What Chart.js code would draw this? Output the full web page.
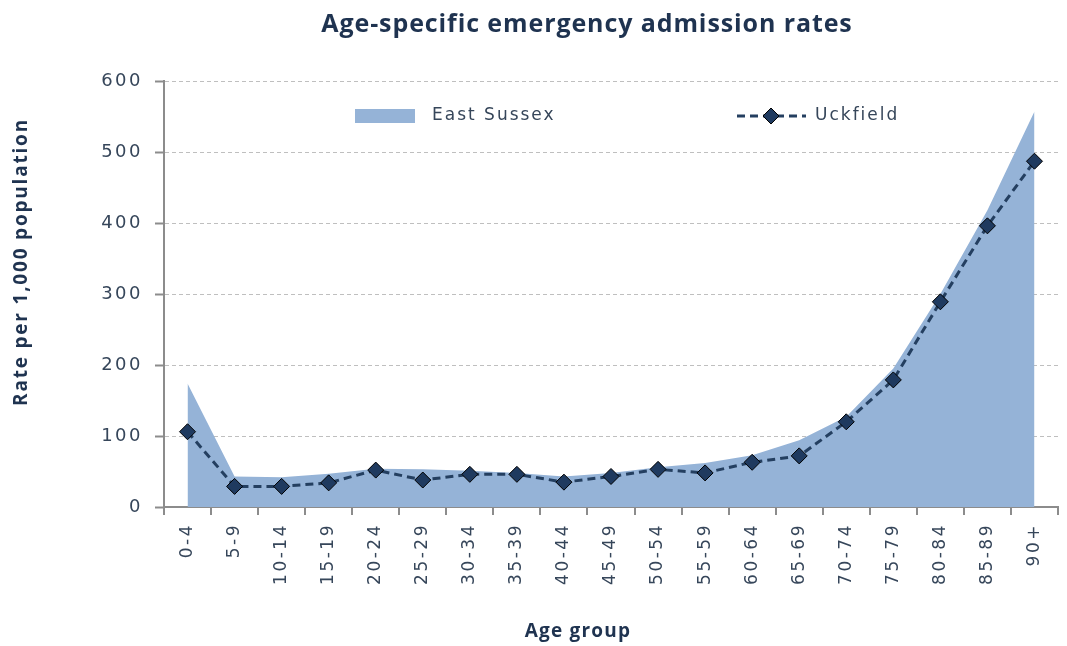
<!DOCTYPE html>
<html>
<head>
<meta charset="utf-8">
<script src="https://cdn.jsdelivr.net/npm/chart.js@4/dist/chart.umd.min.js"></script>
<style>
html,body{margin:0;padding:0;background:#fff;}
#wrap{width:1067px;height:646px;position:relative;}
</style>
</head>
<body>
<div id="wrap"><canvas id="c" width="1067" height="646"></canvas></div>
<script>
const categories = ["0-4","5-9","10-14","15-19","20-24","25-29","30-34","35-39","40-44","45-49","50-54","55-59","60-64","65-69","70-74","75-79","80-84","85-89","90+"];
const eastSussex = [174,43,42,47,54,53,51,48,43,48,56,62,73,94,127,195,300,418,557];
const uckfield = [106,29,29,34,52,38,46,46,35,43,53,48,63,72,120,179,289,396,487];
const yTicks = [0,100,200,300,400,500,600];
const seriesNames = ["East Sussex","Uckfield"];
const chartTitle = 'Age-specific emergency admission rates';
const xTitle = 'Age group';
const yTitle = 'Rate per 1,000 population';

const areaColor = '#95B3D7';
const lineColor = '#243F60';
const markerColor = '#1F3A5F';
const textColor = '#36465A';
const titleColor = '#1F3350';
const axisColor = '#8C8C8C';

function setSpacing(chart) { chart.ctx.letterSpacing = '2.5px'; }

const textPlugin = {
  id: 'customText',
  beforeInit: setSpacing,
  beforeUpdate: setSpacing,
  beforeLayout: setSpacing,
  beforeDraw: setSpacing,
  afterDraw(chart) {
    const ctx = chart.ctx;
    ctx.save();
    // Titles
    ctx.fillStyle = titleColor;
    ctx.textAlign = 'center';
    ctx.textBaseline = 'middle';
    ctx.letterSpacing = '0.9px';
    ctx.font = 'bold 25px "Open Sans"';
    ctx.fillText(chartTitle, 587, 25);
    ctx.letterSpacing = '1.2px';
    ctx.font = 'bold 19px "Open Sans"';
    ctx.fillText(xTitle, 578, 632);
    ctx.save();
    ctx.translate(22, 262);
    ctx.rotate(-Math.PI / 2);
    ctx.letterSpacing = '1.8px';
    ctx.font = 'bold 19px "Open Sans"';
    ctx.fillText(yTitle, 0, 0);
    ctx.restore();

    // Legend
    ctx.letterSpacing = '2px';
    ctx.font = '17px "DejaVu Sans"';
    ctx.textAlign = 'left';
    ctx.fillStyle = areaColor;
    ctx.fillRect(355, 109, 60, 14);
    ctx.fillStyle = textColor;
    ctx.fillText(seriesNames[0], 432, 116);
    ctx.strokeStyle = lineColor;
    ctx.lineWidth = 3;
    ctx.setLineDash([8,5]);
    ctx.beginPath();
    ctx.moveTo(737, 116); ctx.lineTo(806, 116);
    ctx.stroke();
    ctx.setLineDash([]);
    ctx.beginPath();
    const cx = 771, cy = 116, r = 8;
    ctx.moveTo(cx, cy - r); ctx.lineTo(cx + r, cy); ctx.lineTo(cx, cy + r); ctx.lineTo(cx - r, cy); ctx.closePath();
    ctx.fillStyle = markerColor; ctx.fill();
    ctx.lineWidth = 1; ctx.strokeStyle = '#000'; ctx.stroke();
    ctx.fillStyle = textColor;
    ctx.fillText(seriesNames[1], 815, 116);
    ctx.restore();
  }
};

new Chart(document.getElementById('c'), {
  type: 'line',
  data: {
    labels: categories,
    datasets: [
      {
        label: seriesNames[1],
        data: uckfield,
        borderColor: lineColor,
        borderWidth: 3,
        borderDash: [8,5],
        fill: false,
        tension: 0,
        pointStyle: 'rectRot',
        pointRadius: 8,
        pointBackgroundColor: markerColor,
        pointBorderColor: '#000',
        pointBorderWidth: 1,
        order: 0
      },
      {
        label: seriesNames[0],
        data: eastSussex,
        borderWidth: 0,
        borderColor: areaColor,
        backgroundColor: areaColor,
        fill: 'origin',
        tension: 0,
        pointRadius: 0,
        order: 1
      }
    ]
  },
  options: {
    responsive: false,
    animation: false,
    layout: { padding: { left: 0, right: 4, top: 81, bottom: 0 } },
    plugins: {
      legend: { display: false },
      tooltip: { enabled: false },
      title: { display: false }
    },
    scales: {
      x: {
        type: 'category',
        offset: true,
        border: { display: true, color: axisColor, width: 2 },
        grid: { display: true, drawOnChartArea: false, drawTicks: true, tickLength: 8, offset: true, color: axisColor, lineWidth: 2 },
        ticks: { color: textColor, font: { family: 'DejaVu Sans', size: 17 }, minRotation: 90, maxRotation: 90, autoSkip: false, padding: 8 },
        afterFit(scale) { scale.height = 139; }
      },
      y: {
        min: 0, max: 600,
        afterBuildTicks(scale) { scale.ticks = yTicks.map(v => ({ value: v })); },
        border: { display: true, color: axisColor, width: 2, dash: [4,3] },
        grid: {
          display: true, drawOnChartArea: true, drawTicks: true, tickLength: 9,
          color: '#BFBFBF', tickColor: axisColor, tickWidth: 2, lineWidth: 1
        },
        ticks: { color: textColor, font: { family: 'DejaVu Sans', size: 18 }, padding: 12 },
        afterFit(scale) { scale.width = 164; }
      }
    }
  },
  plugins: [textPlugin]
});
</script>
</body>
</html>
